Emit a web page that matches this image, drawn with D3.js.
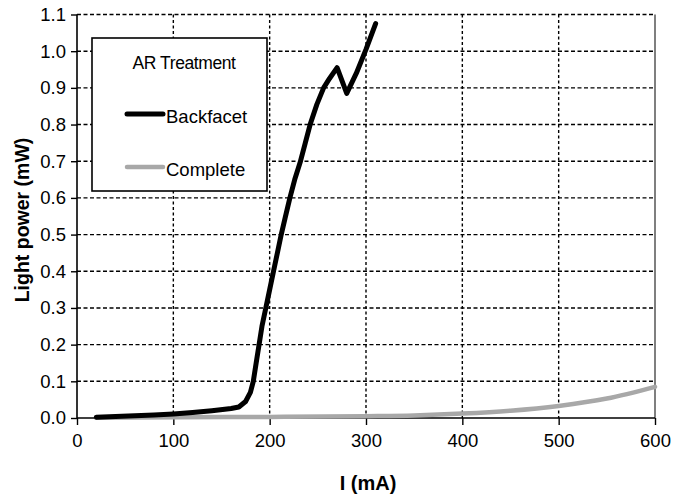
<!DOCTYPE html>
<html>
<head>
<meta charset="utf-8">
<script src="https://cdn.jsdelivr.net/npm/d3@7"></script>
<style>
  html, body { margin: 0; padding: 0; background: #fff; }
  svg { display: block; font-family: "Liberation Sans", Arial, sans-serif; }
</style>
</head>
<body>
<svg id="chart" width="685" height="499"></svg>
<script>
// Drive current (mA) and emitted light power (mW) for each AR treatment
const backfacetCurrent = [20, 40, 60, 80, 100, 120, 140, 160, 168, 175, 180, 183, 186, 189, 192, 196, 200, 204, 208, 212, 216, 221, 226, 232, 237, 242, 249, 256, 262, 270, 280, 290, 300, 310];
const backfacetPower   = [0.002, 0.004, 0.006, 0.008, 0.011, 0.015, 0.020, 0.026, 0.030, 0.045, 0.070, 0.100, 0.150, 0.200, 0.250, 0.300, 0.350, 0.400, 0.450, 0.500, 0.545, 0.600, 0.650, 0.700, 0.750, 0.800, 0.855, 0.900, 0.925, 0.955, 0.885, 0.940, 1.005, 1.075];

const completeCurrent = [20, 100, 200, 300, 350, 400, 450, 500, 550, 600];
const completePower   = [0.001, 0.002, 0.003, 0.005, 0.007, 0.012, 0.020, 0.033, 0.053, 0.085];

const xTicks = [0, 100, 200, 300, 400, 500, 600];
const yTicks = [0.0, 0.1, 0.2, 0.3, 0.4, 0.5, 0.6, 0.7, 0.8, 0.9, 1.0, 1.1];

const seriesNames = ["Backfacet", "Complete"];
const seriesColors = ["#000000", "#a8a8a8"];
const legendTitle = "AR Treatment";

const svg = d3.select("#chart");
const plotLeft = 77, plotRight = 655, plotTop = 14.5, plotBottom = 418;

const x = d3.scaleLinear().domain([0, 600]).range([plotLeft, plotRight]);
const y = d3.scaleLinear().domain([0, 1.1]).range([plotBottom, plotTop]);

// grid
const grid = svg.append("g");
grid.selectAll("line.h").data(yTicks.slice(1)).join("line")
  .attr("x1", plotLeft).attr("x2", plotRight)
  .attr("y1", d => y(d)).attr("y2", d => y(d))
  .attr("stroke", "#000").attr("stroke-width", 1.4)
  .attr("stroke-dasharray", "4,2.5");
grid.selectAll("line.v").data(xTicks.slice(1, -1)).join("line")
  .attr("x1", d => x(d)).attr("x2", d => x(d))
  .attr("y1", plotTop).attr("y2", plotBottom)
  .attr("stroke", "#000").attr("stroke-width", 1.4)
  .attr("stroke-dasharray", "3,2.5");

// right border of the plot area
svg.append("line")
  .attr("x1", plotRight).attr("x2", plotRight).attr("y1", plotTop).attr("y2", plotBottom)
  .attr("stroke", "#555").attr("stroke-width", 1.5);

// axes
const xAxis = d3.axisBottom(x).tickValues(xTicks).tickSize(7).tickPadding(9).tickFormat(d3.format("d"));
const yAxis = d3.axisLeft(y).tickValues(yTicks).tickSize(6).tickPadding(5).tickFormat(d3.format(".1f"));

const gx = svg.append("g").attr("transform", `translate(0,${plotBottom})`).call(xAxis);
const gy = svg.append("g").attr("transform", `translate(${plotLeft},0)`).call(yAxis);
[gx, gy].forEach(g => {
  g.select(".domain").attr("stroke", "#000").attr("stroke-width", 1.6);
  g.selectAll(".tick line").attr("stroke", "#000").attr("stroke-width", 1.4);
  g.selectAll(".tick text").attr("fill", "#000")
    .style("font-family", "'Liberation Sans', Arial, sans-serif")
    .style("font-size", "18.5px");
});
gy.select(".domain").attr("d", `M0,${plotBottom}V${plotTop}`);
gx.select(".domain").attr("d", `M${plotLeft},0H${plotRight}`);

// series
const seriesData = [
  d3.zip(backfacetCurrent, backfacetPower),
  d3.zip(completeCurrent, completePower)
];
svg.append("path").datum(seriesData[1])
  .attr("d", d3.line().x(d => x(d[0])).y(d => y(d[1])).curve(d3.curveMonotoneX))
  .attr("fill", "none").attr("stroke", seriesColors[1]).attr("stroke-width", 4.5)
  .attr("stroke-linecap", "round");
svg.append("path").datum(seriesData[0])
  .attr("d", d3.line().x(d => x(d[0])).y(d => y(d[1])))
  .attr("fill", "none").attr("stroke", seriesColors[0]).attr("stroke-width", 5)
  .attr("stroke-linejoin", "round").attr("stroke-linecap", "round");

// legend
const lg = svg.append("g");
lg.append("rect").attr("x", 92).attr("y", 38).attr("width", 175).attr("height", 153)
  .attr("fill", "#fff").attr("stroke", "#000").attr("stroke-width", 1.6);
lg.append("text").attr("x", 184).attr("y", 69).attr("text-anchor", "middle")
  .style("font-size", "17.5px").style("letter-spacing", "-0.4px").text(legendTitle);
seriesNames.forEach((name, i) => {
  const yy = i === 0 ? 114 : 167;
  lg.append("line").attr("x1", 127).attr("x2", 163).attr("y1", yy).attr("y2", yy)
    .attr("stroke", seriesColors[i]).attr("stroke-width", i === 0 ? 5 : 4.5).attr("stroke-linecap", "round");
  lg.append("text").attr("x", 166).attr("y", yy + 8.5)
    .style("font-size", "18.5px").text(name);
});

// axis titles
svg.append("text").attr("x", 368).attr("y", 490).attr("text-anchor", "middle")
  .style("font-size", "20px").style("font-weight", "bold").text("I (mA)");
svg.append("text").attr("transform", "translate(29,220) rotate(-90)").attr("text-anchor", "middle")
  .style("font-size", "19.5px").style("font-weight", "bold").text("Light power (mW)");
</script>
</body>
</html>
